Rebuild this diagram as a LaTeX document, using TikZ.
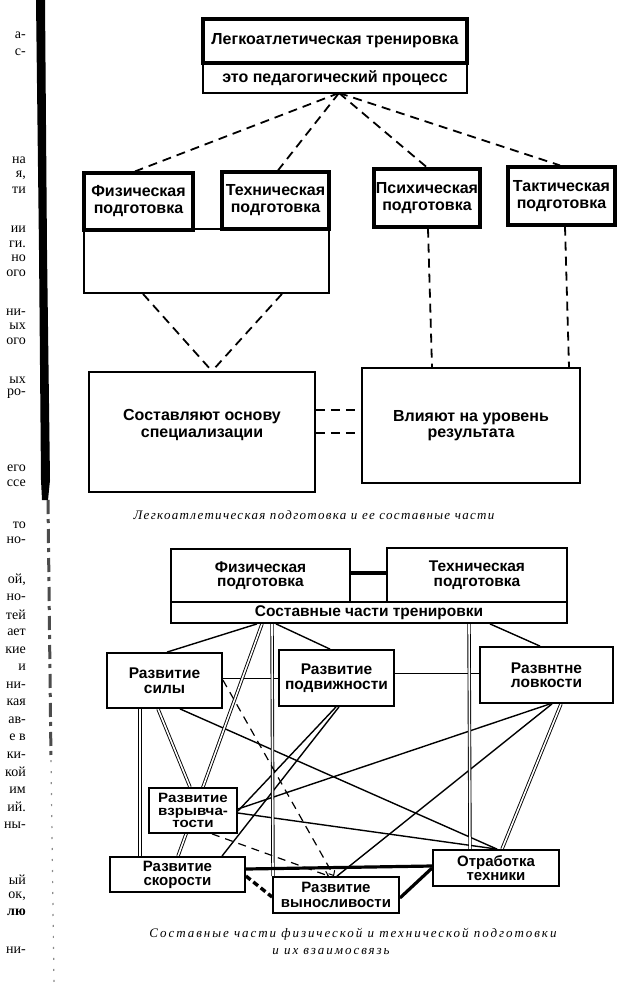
\documentclass[tikz,border=0pt]{standalone}
\usepackage{fontspec}
\setmainfont{Liberation Sans}
\newfontfamily\serifcap{Liberation Serif}
\usetikzlibrary{arrows.meta}
\pgfdeclarelayer{bg}
\pgfsetlayers{bg,main}
\begin{document}
\begin{tikzpicture}[x=1pt,y=-1pt,
  boxF/.style={draw, fill=white, line width=1.8pt, inner sep=0pt, align=center,
     font=\bfseries\fontsize{15.5}{14.5}\selectfont},
  boxT/.style={boxF, line width=3.2pt, font=\bfseries\fontsize{16}{17}\selectfont},
  boxU/.style={boxF, font=\bfseries\fontsize{16}{17}\selectfont},
  txt/.style={inner sep=0pt, align=center, font=\bfseries\fontsize{16}{17}\selectfont},
  dashU/.style={dash pattern=on 9pt off 6pt, line width=1.8pt},
  sline/.style={line width=1.4pt},
  tline/.style={line width=0.9pt},
  dline/.style={double, line width=0.9pt, double distance=1.6pt},
  thk/.style={line width=3.2pt},
  thkdash/.style={line width=3.4pt, dash pattern=on 6pt off 3.5pt},
  dashL/.style={line width=1.2pt, dash pattern=on 8pt off 6pt},
  tipL/.style={-{Straight Barb[length=4pt,width=7pt,line width=1pt]}},
  captxt/.style={inner sep=0pt, font=\serifcap\itshape\fontsize{13}{15}\selectfont\addfontfeature{LetterSpace=10}},
  captxtB/.style={inner sep=0pt, font=\serifcap\itshape\fontsize{13}{15}\selectfont\addfontfeature{LetterSpace=15}},
  margtxt/.style={inner sep=0pt, anchor=east, font=\serifcap\fontsize{14}{15}\selectfont}
]
\useasboundingbox (0,0) rectangle (620,983);

% ---------- upper diagram ----------
\node[boxU, minimum width=264, minimum height=30] (top2) at (335,78) {это педагогический процесс};
\node[boxT, minimum width=264, minimum height=44] (top1) at (335,41) {Легкоатлетическая тренировка};
\node[boxF, minimum width=245, minimum height=64] (big) at (206.5,261) {};
\node[boxT, minimum width=109, minimum height=57] (fiz1) at (138.5,201.5) {Физическая\\подготовка};
\node[boxT, minimum width=107, minimum height=57] (tech1) at (275.5,200.5) {Техническая\\подготовка};
\node[boxT, minimum width=106, minimum height=58] (psych) at (427,198) {Психическая\\подготовка};
\node[boxT, minimum width=107, minimum height=58] (takt) at (561.5,196) {Тактическая\\подготовка};
\node[boxF, minimum width=226, minimum height=120] (osn) at (202,432) {};
\node[txt] (osnT) at (202,425) {Составляют основу\\специализации};
\node[boxF, minimum width=218, minimum height=115, font=\bfseries\fontsize{16}{16.5}\selectfont] (vliy) at (471,425.5) {Влияют на уровень\\результата};
\node[captxt] (cap1) at (314,515) {Легкоатлетическая подготовка и ее составные части};

% ---------- lower diagram ----------
\node[boxF, minimum width=179, minimum height=53] (fiz2) at (260.5,575.5) {Физическая\\подготовка};
\node[boxF, minimum width=180, minimum height=54] (tech2) at (477,575) {Техническая\\подготовка};
\node[boxF, minimum width=396, minimum height=21] (bar) at (369,612.5) {Составные части тренировки};
\node[boxF, minimum width=115, minimum height=55] (sily) at (164.5,680.5) {Развитие\\силы};
\node[boxF, minimum width=115, minimum height=56] (podv) at (336.5,678) {Развитие\\подвижности};
\node[boxF, minimum width=133, minimum height=56] (lovk) at (546.5,675) {Развнтне\\ловкости};
\node[boxF, minimum width=88, minimum height=45, font=\bfseries\fontsize{13.5}{12.2}\selectfont\addfontfeature{FakeStretch=1.12}] (vzryv) at (193,810.5) {Развитие\\взрывча-\\тости};
\node[boxF, minimum width=135, minimum height=35, font=\bfseries\fontsize{15}{14.2}\selectfont] (skor) at (177.5,874.5) {Развитие\\скорости};
\node[boxF, minimum width=126, minimum height=36, font=\bfseries\fontsize{15}{14.2}\selectfont] (vynos) at (336,895) {Развитие\\выносливости};
\node[boxF, minimum width=126, minimum height=36, font=\bfseries\fontsize{15}{14.2}\selectfont] (otrab) at (496,868) {Отработка\\техники};
\node[captxtB] (cap2a) at (353,934) {Составные части физической и технической подготовки};
\node[captxtB] (cap2b) at (331,951) {и их взаимосвязь};

% ---------- left margin (neighbouring page) ----------
\foreach \yy/\tt [count=\i] in {35/{а-},52/{с-},160/{на},175/{я,},190/{ти},229/{ии},244/{ги.},258/{но},273/{ого},
  312/{ни-},326/{ых},341/{ого},380/{ых},394/{ро-},468/{его},483/{ссе},525/{то},540/{но-},
  580/{ой,},597/{но-},615/{тей},632/{ает},650/{кие},667/{и},685/{ни-},702/{кая},720/{ав-},737/{е в},
  755/{ки-},772/{кой},790/{им},807/{ий.},825/{ны-},880/{ый},896/{ок,},950/{ни-}}
  \node[margtxt] (m\i) at (26,\yy) {\tt};
\node[margtxt, font=\serifcap\bfseries\fontsize{14}{15}\selectfont] (mb) at (26,912) {лю};

\begin{pgfonlayer}{bg}
\fill[white] (0,0) rectangle (620,983);
% binding edge
\fill[black] (36,0) -- (45,0) -- (47,250) -- (50,480) -- (48,500) -- (42,500) -- (41,480) -- (39,250) -- cycle;
\draw[black!70, line width=3pt, dash pattern=on 14pt off 5pt on 4pt off 6pt] (48,500) -- (51,760);
\draw[black!45, line width=1.2pt, dash pattern=on 2pt off 9pt] (51,760) -- (54,983);

% upper connectors
\coordinate (apex) at (339,93);
\draw[dashU] (apex) -- (135,0 |- fiz1.north);
\draw[dashU] (apex) -- (278,0 |- tech1.north);
\draw[dashU] (apex) -- (427,0 |- psych.north);
\draw[dashU] (apex) -- (560,0 |- takt.north);
\draw[dashU] (143,0 |- big.south) -- (212,0 |- osn.north);
\draw[dashU] (282,0 |- big.south) -- (212,0 |- osn.north);
\draw[dashU] (428,0 |- psych.south) -- (432,0 |- vliy.north);
\draw[dashU] (565,0 |- takt.south) -- (569,0 |- vliy.north);
\draw[dashU] (osn.east |- 0,410) -- (vliy.west |- 0,410);
\draw[dashU] (osn.east |- 0,433) -- (vliy.west |- 0,433);

% lower connectors
\draw[thk] (fiz2.east |- 0,573) -- (tech2.west |- 0,573);
\draw[sline] (257,0 |- bar.south) -- (167,0 |- sily.north);
\draw[sline] (276,0 |- bar.south) -- (330,0 |- podv.north);
\draw[sline] (490,0 |- bar.south) -- (540,0 |- lovk.north);
\draw[tline] (sily.east |- 0,678) -- (podv.west |- 0,678);
\draw[tline] (podv.east |- 0,673) -- (lovk.west |- 0,673);
\draw[sline] (180,0 |- sily.south) -- (497,0 |- otrab.north);
\draw[sline] (vzryv.east |- 0,809) -- (550,0 |- lovk.south);
\draw[sline] (vzryv.east |- 0,811) -- (336,0 |- podv.south);
\draw[sline] (vzryv.east |- 0,813) -- (497,0 |- otrab.north);
\draw[sline] (222,0 |- skor.north) -- (339,0 |- podv.south);
\draw[sline] (337,0 |- vynos.north) -- (552,0 |- lovk.south);

\draw[dline] (262,0 |- bar.south) -- (178,0 |- skor.north);
\draw[dline] (140,0 |- sily.south) -- (140,0 |- skor.north);
\draw[dline] (158,0 |- sily.south) -- (190,0 |- vzryv.north);
\draw[dline] (272,0 |- bar.south) -- (273,0 |- vynos.north);
\draw[dline] (469,0 |- bar.south) -- (470,0 |- otrab.north);
\draw[dline] (561,0 |- lovk.south) -- (502,0 |- otrab.north);

\draw[dashL, tipL] (sily.east |- 0,680) -- (334,0 |- vynos.north);
\draw[dashL, tipL] (212,0 |- vzryv.south) -- (329,0 |- vynos.north);

\draw[thk] (skor.east |- 0,869) -- (otrab.west |- 0,866);
\draw[thkdash] (skor.east |- 0,876) -- (vynos.west |- 0,897);
\draw[thk] (vynos.east |- 0,898) -- (otrab.west |- 0,868);
\end{pgfonlayer}
\end{tikzpicture}
\end{document}
